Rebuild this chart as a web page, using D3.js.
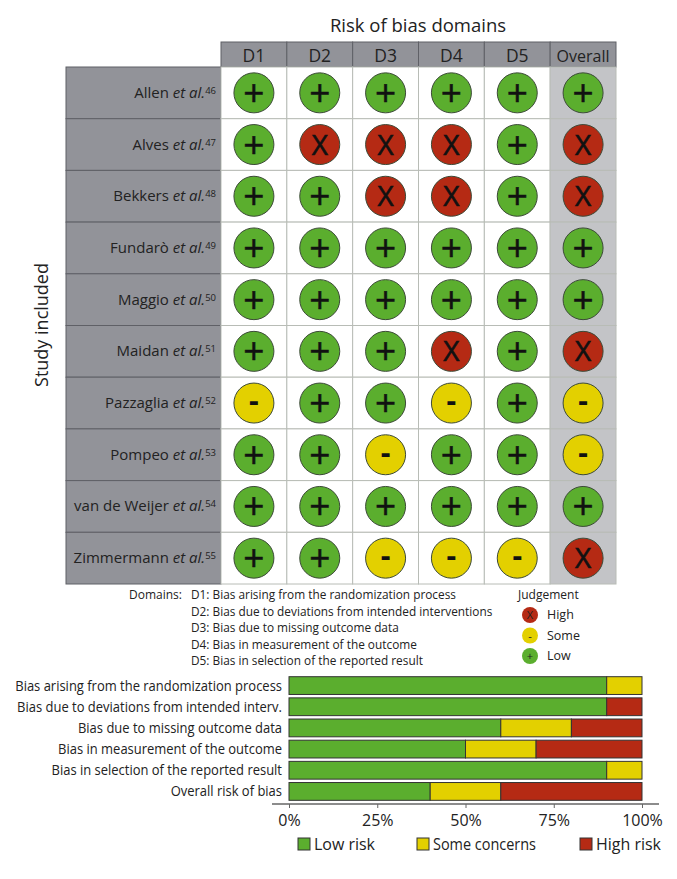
<!DOCTYPE html>
<html>
<head>
<meta charset="utf-8">
<script src="https://cdn.jsdelivr.net/npm/d3@7"></script>
<style>
  html, body { margin: 0; padding: 0; background: #fff; }
  text { font-family: "Open Sans", sans-serif; fill: #222; }
</style>
</head>
<body>
<div id="chart"></div>
<script>
// traffic light data
var domains = ["D1", "D2", "D3", "D4", "D5", "Overall"];
var studies = ["Allen", "Alves", "Bekkers", "Fundarò", "Maggio", "Maidan", "Pazzaglia", "Pompeo", "van de Weijer", "Zimmermann"];
var refs = ["46", "47", "48", "49", "50", "51", "52", "53", "54", "55"];
var judgements = [
  ["+", "+", "+", "+", "+", "+"],
  ["+", "X", "X", "X", "+", "X"],
  ["+", "+", "X", "X", "+", "X"],
  ["+", "+", "+", "+", "+", "+"],
  ["+", "+", "+", "+", "+", "+"],
  ["+", "+", "+", "X", "+", "X"],
  ["-", "+", "+", "-", "+", "-"],
  ["+", "+", "-", "+", "+", "-"],
  ["+", "+", "+", "+", "+", "+"],
  ["+", "+", "-", "-", "-", "X"]
];

// domain notes and judgement key
var domainNotes = [
  "D1: Bias arising from the randomization process",
  "D2: Bias due to deviations from intended interventions",
  "D3: Bias due to missing outcome data",
  "D4: Bias in measurement of the outcome",
  "D5: Bias in selection of the reported result"
];
var keySymbols = ["X", "-", "+"];
var keyLabels = ["High", "Some", "Low"];

// summary bars
var barLabels = [
  "Bias arising from the randomization process",
  "Bias due to deviations from intended interv.",
  "Bias due to missing outcome data",
  "Bias in measurement of the outcome",
  "Bias in selection of the reported result",
  "Overall risk of bias"
];
var lowRisk = [90, 90, 60, 50, 90, 40];
var someConcerns = [10, 0, 20, 20, 10, 20];
var highRisk = [0, 10, 20, 30, 0, 40];
var riskNames = ["Low risk", "Some concerns", "High risk"];
var pctTicks = [0, 25, 50, 75, 100];

var svgWidth = 677;
var svgHeight = 879;

var colors = { "+": "#5bae2e", "-": "#e3d000", "X": "#b52a14" };
var riskColors = ["#5bae2e", "#e3d000", "#b52a14"];
var headGray = "#929399";
var overallGray = "#c3c4c7";
var gridGray = "#b8bcb6";

// glyph look inside the big circles
var symSize = { "+": 37, "-": 30, "X": 28 };
var symShift = { "+": 13, "-": 8, "X": 10 };
var symWeight = { "+": 400, "-": 700, "X": 400 };
var symStroke = { "+": 0.5, "-": 0, "X": 0.6 };

var svg = d3
  .select("#chart")
  .append("svg")
  .attr("width", svgWidth)
  .attr("height", svgHeight)
  .style("display", "block");

var xTable = d3.scaleBand().domain(domains).range([221, 616]);
var yTable = d3.scaleBand().domain(studies).range([67, 584]);

// titles
svg.append("text")
  .attr("x", 418).attr("y", 32)
  .attr("text-anchor", "middle")
  .style("font-size", "18.5px")
  .text("Risk of bias domains");

svg.append("text")
  .attr("transform", "translate(48, 325) rotate(-90)")
  .attr("text-anchor", "middle")
  .style("font-size", "18px")
  .text("Study included");

// header cells
svg.selectAll(".head")
  .data(domains)
  .enter()
  .append("rect")
  .attr("class", "head")
  .attr("x", d => xTable(d))
  .attr("y", 42)
  .attr("width", xTable.bandwidth())
  .attr("height", 25)
  .attr("fill", headGray)
  .attr("stroke", "#5f6066")
  .attr("stroke-width", 1);

svg.selectAll(".headText")
  .data(domains)
  .enter()
  .append("text")
  .attr("class", "headText")
  .attr("x", d => xTable(d) + xTable.bandwidth() / 2)
  .attr("y", 62)
  .attr("text-anchor", "middle")
  .style("font-size", d => d === "Overall" ? "16px" : "17.5px")
  .text(d => d);

// study label cells
svg.selectAll(".studyCell")
  .data(studies)
  .enter()
  .append("rect")
  .attr("class", "studyCell")
  .attr("x", 66)
  .attr("y", d => yTable(d))
  .attr("width", 155)
  .attr("height", yTable.bandwidth())
  .attr("fill", headGray)
  .attr("stroke", "#5f6066")
  .attr("stroke-width", 1);

var studyText = svg.selectAll(".studyText")
  .data(studies)
  .enter()
  .append("text")
  .attr("class", "studyText")
  .attr("x", 216)
  .attr("y", d => yTable(d) + yTable.bandwidth() / 2 + 5)
  .attr("text-anchor", "end")
  .style("font-size", "15px");

studyText.append("tspan").text(d => d + " ");
studyText.append("tspan").style("font-style", "italic").text("et al.");
studyText.append("tspan")
  .attr("dy", -4)
  .style("font-size", "9.5px")
  .text((d, i) => refs[i]);

// judgement cells
var cells = [];
judgements.forEach(function(row, i) {
  row.forEach(function(j, k) {
    cells.push({ study: studies[i], domain: domains[k], value: j });
  });
});

svg.selectAll(".cell")
  .data(cells)
  .enter()
  .append("rect")
  .attr("class", "cell")
  .attr("x", d => xTable(d.domain))
  .attr("y", d => yTable(d.study))
  .attr("width", xTable.bandwidth())
  .attr("height", yTable.bandwidth())
  .attr("fill", d => d.domain === "Overall" ? overallGray : "#fff")
  .attr("stroke", gridGray)
  .attr("stroke-width", 1);

svg.selectAll(".dot")
  .data(cells)
  .enter()
  .append("circle")
  .attr("class", "dot")
  .attr("cx", d => xTable(d.domain) + xTable.bandwidth() / 2)
  .attr("cy", d => yTable(d.study) + yTable.bandwidth() / 2)
  .attr("r", 20)
  .attr("fill", d => colors[d.value])
  .attr("stroke", "#3c4a38")
  .attr("stroke-width", 1);

svg.selectAll(".sym")
  .data(cells)
  .enter()
  .append("text")
  .attr("class", "sym")
  .attr("x", d => xTable(d.domain) + xTable.bandwidth() / 2)
  .attr("y", d => yTable(d.study) + yTable.bandwidth() / 2 + symShift[d.value])
  .attr("text-anchor", "middle")
  .style("font-size", d => symSize[d.value] + "px")
  .style("font-weight", d => symWeight[d.value])
  .style("fill", "#111")
  .style("stroke", "#111")
  .style("stroke-width", d => symStroke[d.value])
  .text(d => d.value);

// domains note
svg.append("text")
  .attr("x", 182).attr("y", 599)
  .attr("text-anchor", "end")
  .style("font-size", "12px")
  .text("Domains:");

svg.selectAll(".note")
  .data(domainNotes)
  .enter()
  .append("text")
  .attr("class", "note")
  .attr("transform", (d, i) => `translate(191, ${599 + i * 16.6}) scale(0.94, 1)`)
  .style("font-size", "12.6px")
  .text(d => d);

// judgement key
svg.append("text")
  .attr("x", 518).attr("y", 599)
  .style("font-size", "12px")
  .text("Judgement");

var yKey = d3.scalePoint().domain(keyLabels).range([615, 656]);

svg.selectAll(".keyDot")
  .data(keyLabels)
  .enter()
  .append("circle")
  .attr("class", "keyDot")
  .attr("cx", 530)
  .attr("cy", d => yKey(d))
  .attr("r", 8)
  .attr("fill", (d, i) => colors[keySymbols[i]]);

svg.selectAll(".keySym")
  .data(keyLabels)
  .enter()
  .append("text")
  .attr("class", "keySym")
  .attr("x", 530)
  .attr("y", d => yKey(d) + 4)
  .attr("text-anchor", "middle")
  .style("font-size", "11px")
  .text((d, i) => keySymbols[i]);

svg.selectAll(".keyText")
  .data(keyLabels)
  .enter()
  .append("text")
  .attr("class", "keyText")
  .attr("x", 547)
  .attr("y", d => yKey(d) + 4)
  .style("font-size", "12.5px")
  .text(d => d);

// summary plot
var xBar = d3.scaleLinear().domain([0, 100]).range([289, 642]);
var yBar = d3.scaleBand().domain(barLabels).range([675, 802]).paddingInner(0.16).paddingOuter(0.08);

var stack = d3.stack().keys([0, 1, 2]).value(function(d, k) {
  return [lowRisk, someConcerns, highRisk][k][barLabels.indexOf(d)];
});

svg.selectAll(".barLayer")
  .data(stack(barLabels))
  .enter()
  .append("g")
  .attr("class", "barLayer")
  .attr("fill", d => riskColors[d.key])
  .selectAll("rect")
  .data(d => d.filter(p => p[1] > p[0]))
  .enter()
  .append("rect")
  .attr("x", d => xBar(d[0]))
  .attr("y", d => yBar(d.data))
  .attr("width", d => xBar(d[1]) - xBar(d[0]))
  .attr("height", yBar.bandwidth())
  .attr("stroke", "#333")
  .attr("stroke-width", 1);

// labels are narrow in the original, so squeeze them sideways
svg.selectAll(".barLabel")
  .data(barLabels)
  .enter()
  .append("text")
  .attr("class", "barLabel")
  .attr("transform", d => `translate(282, ${yBar(d) + yBar.bandwidth() / 2 + 5}) scale(0.895, 1)`)
  .attr("text-anchor", "end")
  .style("font-size", "14.5px")
  .text(d => d);

var bottomAxis = d3.axisBottom(xBar)
  .tickValues(pctTicks)
  .tickFormat(d => d + "%")
  .tickSize(4)
  .tickPadding(7);

var xAxis = svg.append("g")
  .attr("transform", "translate(0, 804)")
  .call(bottomAxis);

xAxis.select(".domain").remove();
xAxis.append("line")
  .attr("x1", 272).attr("x2", 659)
  .attr("stroke", "#666").attr("stroke-width", 1.5);
xAxis.selectAll(".tick line").attr("stroke", "#666");
xAxis.selectAll("text").style("font-size", "16px").style("font-family", "'Open Sans', sans-serif");

// risk legend
var legendX = [298, 417, 580];
var legendTextWidth = [61, 103, 65];

svg.selectAll(".riskBox")
  .data(riskNames)
  .enter()
  .append("rect")
  .attr("class", "riskBox")
  .attr("x", (d, i) => legendX[i])
  .attr("y", 838)
  .attr("width", 12)
  .attr("height", 12)
  .attr("fill", (d, i) => riskColors[i])
  .attr("stroke", "#333")
  .attr("stroke-width", 1);

svg.selectAll(".riskText")
  .data(riskNames)
  .enter()
  .append("text")
  .attr("class", "riskText")
  .attr("x", (d, i) => legendX[i] + 16)
  .attr("y", 850)
  .attr("textLength", (d, i) => legendTextWidth[i])
  .attr("lengthAdjust", "spacingAndGlyphs")
  .style("font-size", "16px")
  .text(d => d);
</script>
</body>
</html>
